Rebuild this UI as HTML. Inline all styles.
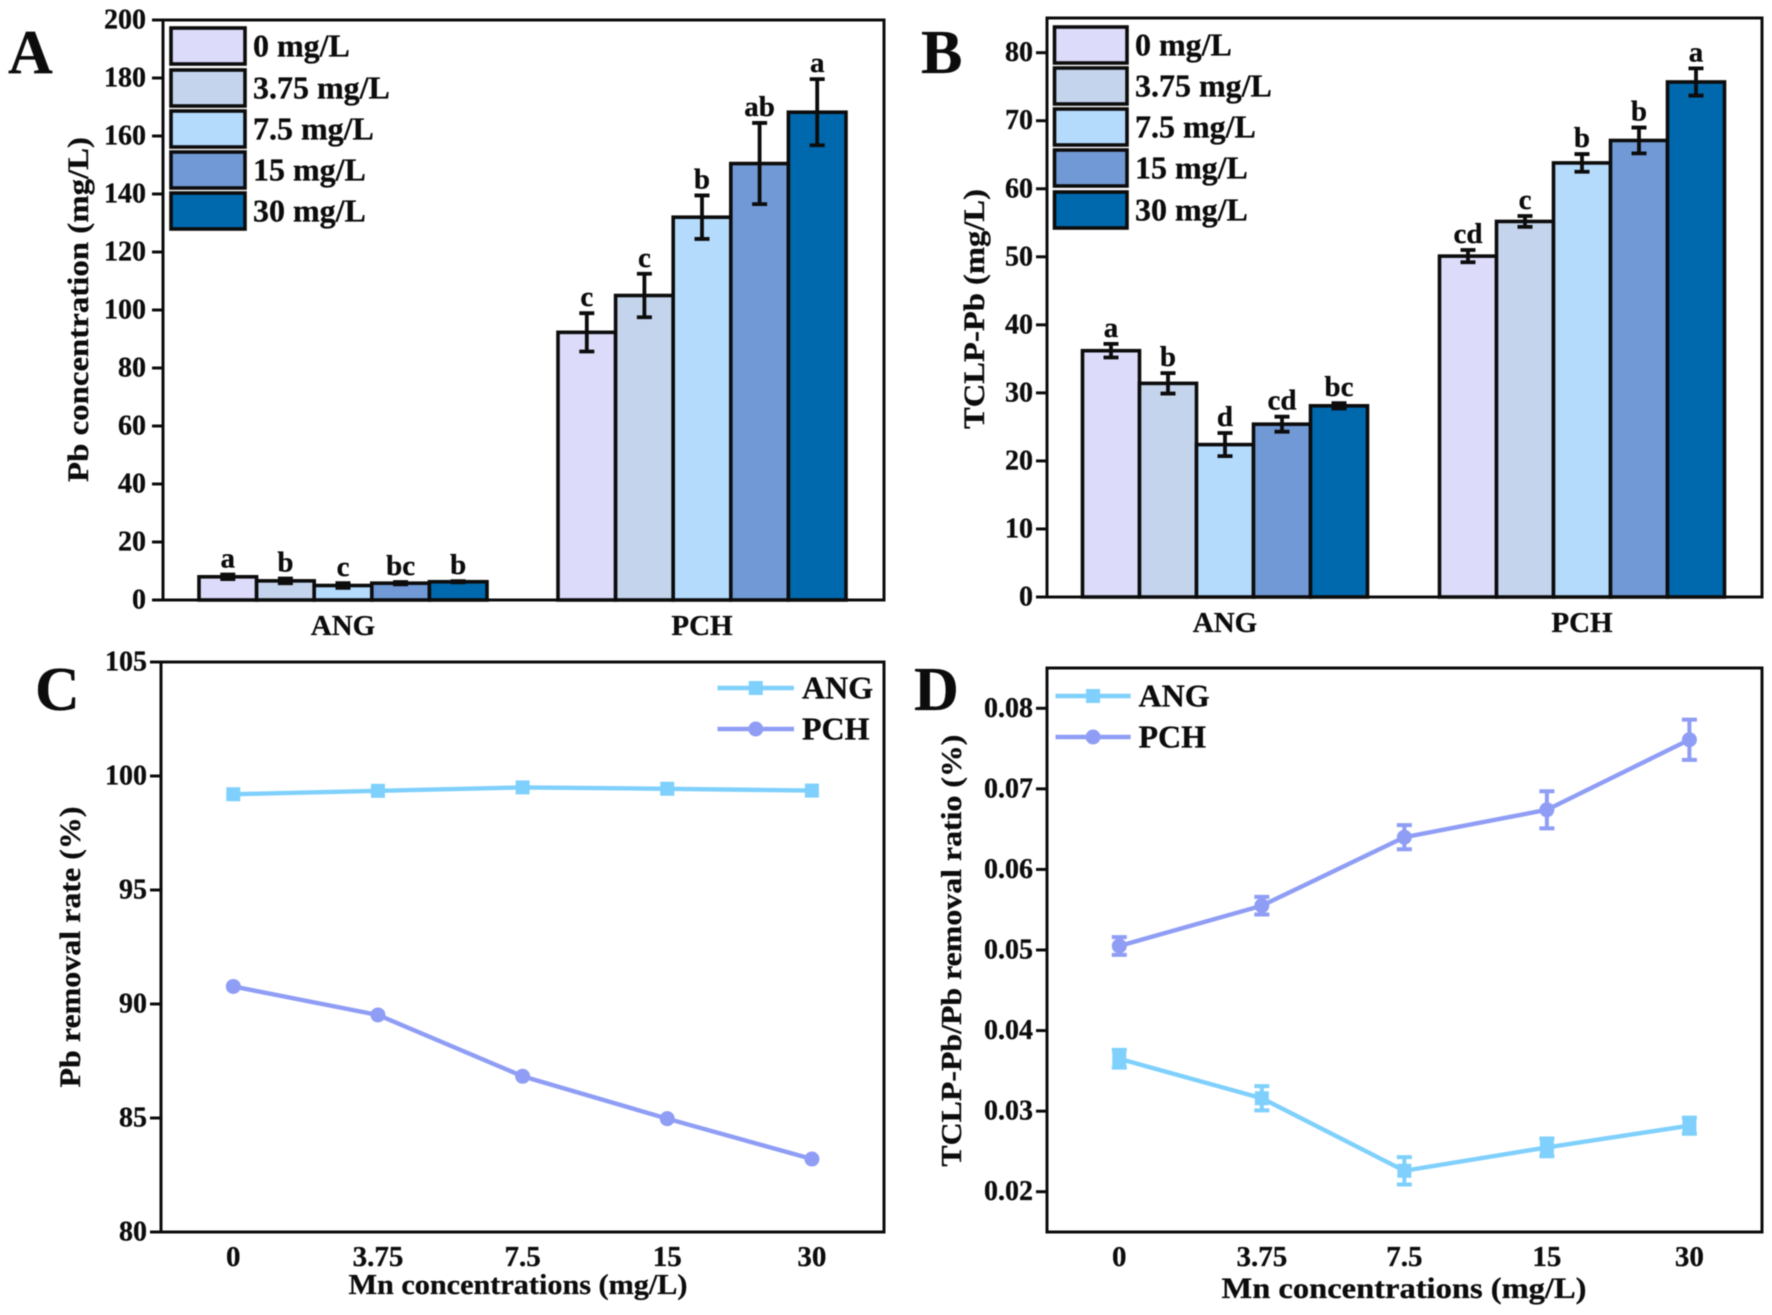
<!DOCTYPE html>
<html>
<head>
<meta charset="utf-8">
<title>Pb concentration and removal charts</title>
<style>
html,body{margin:0;padding:0;background:#fff;width:1772px;height:1315px;overflow:hidden}
svg{display:block;filter:blur(.5px)}
text{font-family:"Liberation Serif",serif;font-weight:bold;fill:#0c0c0c;stroke:#0c0c0c;stroke-width:.3px}
</style>
</head>
<body>
<svg id="figure" xmlns="http://www.w3.org/2000/svg" width="1772" height="1315" viewBox="0 0 1772 1315"></svg>
<script>
/* ---------- shared categories ---------- */
const doseLabels = ['0 mg/L', '3.75 mg/L', '7.5 mg/L', '15 mg/L', '30 mg/L'];
const groupLabels = ['ANG', 'PCH'];
const mnLabels = ['0', '3.75', '7.5', '15', '30'];

/* ---------- panel A ---------- */
const aTicks = [0, 20, 40, 60, 80, 100, 120, 140, 160, 180, 200];
const aAng = [8, 6.6, 5, 5.8, 6.3];
const aAngErr = [0.8, 0.8, 0.8, 0.4, 0.2];
const aAngSig = ['a', 'b', 'c', 'bc', 'b'];
const aPch = [92.3, 105, 132, 150.5, 168.2];
const aPchErr = [6.6, 7.5, 7.5, 14, 11.4];
const aPchSig = ['c', 'c', 'b', 'ab', 'a'];

/* ---------- panel B ---------- */
const bTicks = [0, 10, 20, 30, 40, 50, 60, 70, 80];
const bAng = [36.2, 31.4, 22.4, 25.4, 28.1];
const bAngErr = [1, 1.5, 1.7, 1.1, 0.4];
const bAngSig = ['a', 'b', 'd', 'cd', 'bc'];
const bPch = [50.1, 55.2, 63.8, 67.1, 75.7];
const bPchErr = [0.9, 0.8, 1.3, 1.9, 2];
const bPchSig = ['cd', 'c', 'b', 'b', 'a'];

/* ---------- panel C ---------- */
const cTicks = [80, 85, 90, 95, 100, 105];
const cAng = [99.2, 99.35, 99.5, 99.44, 99.36];
const cPch = [90.77, 89.52, 86.83, 84.97, 83.2];

/* ---------- panel D ---------- */
const dTicks = [0.02, 0.03, 0.04, 0.05, 0.06, 0.07, 0.08];
const dAng = [0.0365, 0.0316, 0.0226, 0.0255, 0.0282];
const dAngErr = [0.0011, 0.0015, 0.0017, 0.0011, 0.001];
const dPch = [0.0505, 0.0555, 0.064, 0.0674, 0.0761];
const dPchErr = [0.0011, 0.0011, 0.0015, 0.0023, 0.0025];

const svg = document.getElementById('figure');
const NS = 'http://www.w3.org/2000/svg';
const barColors = ['#dcdcfa', '#c3d4ec', '#b4dafc', '#7099d6', '#0068ad'];
const ANG_COLOR = '#7fd0fc';
const PCH_COLOR = '#8f9df5';
const INK = '#0c0c0c';

function node(tag, attrs, parent) {
  const el = document.createElementNS(NS, tag);
  for (const k in attrs) el.setAttribute(k, attrs[k]);
  (parent || svg).appendChild(el);
  return el;
}
function label(parent, x, y, str, size, anchor, len) {
  const attrs = { x: x, y: y, 'font-size': size, 'text-anchor': anchor || 'middle' };
  if (len) { attrs.textLength = len; attrs.lengthAdjust = 'spacingAndGlyphs'; }
  const el = node('text', attrs, parent);
  el.textContent = str;
  return el;
}
function vLabel(parent, x, cy, str, size, len) {
  const el = label(parent, 0, 0, str, size, 'middle', len);
  el.setAttribute('transform', 'translate(' + x + ' ' + cy + ') rotate(-90)');
  return el;
}
function group(parent, name) {
  const g = node('g', {}, parent);
  
  
  return g;
}
function linearScale(d0, d1, r0, r1) {
  return function (v) { return r0 + (v - d0) / (d1 - d0) * (r1 - r0); };
}
function drawFrame(panel, p, ticks, yScale, fmt) {
  const frame = node('rect', { x: p.left, y: p.top, width: p.right - p.left, height: p.bottom - p.top, fill: 'none', stroke: INK, 'stroke-width': 3 }, panel);
  
  
  ticks.forEach(function (t) {
    const y = yScale(t);
    const tick = node('line', { x1: p.left - 11, x2: p.left, y1: y, y2: y, stroke: INK, 'stroke-width': 3 }, panel);
    
    
    const txt = label(panel, p.left - p.gap, y + 8.5, fmt(t), 28, 'end');
    
    
  });
}
function errorBar(parent, x, yHi, yLo, capHalf, color, width) {
  const bar = node('path', {
    d: 'M' + (x - capHalf) + ' ' + yHi + 'H' + (x + capHalf) + 'M' + x + ' ' + yHi + 'V' + yLo + 'M' + (x - capHalf) + ' ' + yLo + 'H' + (x + capHalf),
    fill: 'none', stroke: color, 'stroke-width': width
  }, parent);
  return bar;
}
function barPanel(name, p, ticks, series, errs, sigs, groupX, barWidth, groupLabelY) {
  const panel = group(svg, name);
  const y = linearScale(p.dMin, p.dMax, p.bottom, p.top);
  drawFrame(panel, p, ticks, y, String);
  series.forEach(function (vals, gi) {
    const gEl = group(panel, 'bars-' + groupLabels[gi].toLowerCase());
    const cx = groupX(gi);
    vals.forEach(function (v, i) {
      const x = cx + (i - 2.5) * barWidth;
      const bar = node('rect', { x: x, y: y(v), width: barWidth, height: p.bottom - y(v), fill: barColors[i], stroke: INK, 'stroke-width': 3.6 }, gEl);
      
      
      const mid = x + barWidth / 2;
      const err = errorBar(gEl, mid, y(v + errs[gi][i]), y(v - errs[gi][i]), 7.5, INK, 3.8);
      
      
      const sig = label(gEl, mid, y(v + errs[gi][i]) - 7, sigs[gi][i], 29);
      
      
    });
    const gl = label(panel, cx, groupLabelY, groupLabels[gi], 29);
    
    
  });
  return panel;
}
function barLegend(panel, x, x2, boxes, textX, name) {
  const lg = group(panel, name);
  doseLabels.forEach(function (d, i) {
    const box = boxes[i];
    const sw = node('rect', { x: x, y: box[0], width: x2 - x, height: box[1] - box[0], fill: barColors[i], stroke: INK, 'stroke-width': 3.6 }, lg);
    
    
    const t = label(lg, textX, (box[0] + box[1]) / 2 + 10.5, d, 32, 'start');
    
    
  });
}
function drawMarker(parent, kind, x, y, color) {
  if (kind === 'square') return node('rect', { x: x - 7, y: y - 7, width: 14, height: 14, fill: color }, parent);
  return node('circle', { cx: x, cy: y, r: 7.5, fill: color }, parent);
}
function lineSeries(panel, vals, errs, xPos, y, kind, color, name) {
  const g = group(panel, name);
  const pts = vals.map(function (v, i) { return xPos(i) + ',' + y(v); }).join(' ');
  const line = node('polyline', { points: pts, fill: 'none', stroke: color, 'stroke-width': 4.4 }, g);
  
  
  vals.forEach(function (v, i) {
    if (errs) {
      const e = errorBar(g, xPos(i), y(v + errs[i]), y(v - errs[i]), 7.5, color, 4);
      
      
    }
    const m = drawMarker(g, kind, xPos(i), y(v), color);
    
    
  });
}
function lineLegend(panel, x1, x2, textX, yAng, yPch) {
  const lg = group(panel, 'legend');
  [['ANG', 'square', ANG_COLOR, yAng], ['PCH', 'circle', PCH_COLOR, yPch]].forEach(function (e) {
    const l = node('line', { x1: x1, x2: x2, y1: e[3], y2: e[3], stroke: e[2], 'stroke-width': 4.4 }, lg);
    
    
    const m = drawMarker(lg, e[1], (x1 + x2) / 2, e[3], e[2]);
    
    
    const t = label(lg, textX, e[3] + 10.5, e[0], 32, 'start');
    
    
  });
}
function xLabels(panel, xPos, yBase) {
  mnLabels.forEach(function (s, i) {
    const t = label(panel, xPos(i), yBase, s, 29);
    
    
  });
}
function panelLetter(panel, x, y, s) {
  const t = label(panel, x, y, s, 62, 'start');
  
  
}
function fixed2(v) { return v.toFixed(2); }

/* Panel A */
const pA = { left: 163, right: 884, top: 20, bottom: 600, dMin: 0, dMax: 200, gap: 17 };
const panelA = barPanel('panel-a', pA, aTicks, [aAng, aPch], [aAngErr, aPchErr], [aAngSig, aPchSig],
  function (g) { return 343 + g * 359; }, 57.6, 635);
barLegend(panelA, 171, 245, [[28, 64], [70, 106], [111, 147], [152, 188], [193, 229]], 253, 'legend');
panelLetter(panelA, 8, 73, 'A');
const aTitle = vLabel(panelA, 88, 309.5, 'Pb concentration (mg/L)', 30, 345);



/* Panel B */
const pB = { left: 1047, right: 1762, top: 18, bottom: 597, dMin: 0, dMax: 85.1, gap: 14 };
const panelB = barPanel('panel-b', pB, bTicks, [bAng, bPch], [bAngErr, bPchErr], [bAngSig, bPchSig],
  function (g) { return 1225 + g * 357; }, 57, 632);
barLegend(panelB, 1054.5, 1127, [[27, 63], [68, 104], [109, 145], [150, 186], [192, 228]], 1135, 'legend');
panelLetter(panelB, 921, 73, 'B');
const bTitle = vLabel(panelB, 984, 309, 'TCLP-Pb (mg/L)', 30, 240);



/* Panel C */
const pC = { left: 161, right: 884, top: 662, bottom: 1232, dMin: 80, dMax: 105, gap: 14 };
const panelC = group(svg, 'panel-c');
const yC = linearScale(pC.dMin, pC.dMax, pC.bottom, pC.top);
const xC = linearScale(0, 4, 233.3, 811.9);
drawFrame(panelC, pC, cTicks, yC, String);
lineSeries(panelC, cAng, null, xC, yC, 'square', ANG_COLOR, 'series-ang');
lineSeries(panelC, cPch, null, xC, yC, 'circle', PCH_COLOR, 'series-pch');
lineLegend(panelC, 717.5, 794, 802, 688, 729);
xLabels(panelC, xC, 1266);
panelLetter(panelC, 35, 710, 'C');
const cXTitle = label(panelC, 518, 1294, 'Mn concentrations (mg/L)', 29, 'middle', 339);


const cYTitle = vLabel(panelC, 80, 947, 'Pb removal rate (%)', 30, 281);



/* Panel D */
const pD = { left: 1047, right: 1762, top: 668, bottom: 1232, dMin: 0.015, dMax: 0.085, gap: 14 };
const panelD = group(svg, 'panel-d');
const yD = linearScale(pD.dMin, pD.dMax, pD.bottom, pD.top);
const xD = linearScale(0, 4, 1119.3, 1689.4);
drawFrame(panelD, pD, dTicks, yD, fixed2);
lineSeries(panelD, dAng, dAngErr, xD, yD, 'square', ANG_COLOR, 'series-ang');
lineSeries(panelD, dPch, dPchErr, xD, yD, 'circle', PCH_COLOR, 'series-pch');
lineLegend(panelD, 1055.5, 1130.6, 1138.5, 696, 737);
xLabels(panelD, xD, 1266);
panelLetter(panelD, 914, 710, 'D');
const dXTitle = label(panelD, 1404, 1298, 'Mn concentrations (mg/L)', 30, 'middle', 365);


const dYTitle = vLabel(panelD, 961, 950.6, 'TCLP-Pb/Pb removal ratio (%)', 29, 432);


</script>
</body>
</html>
